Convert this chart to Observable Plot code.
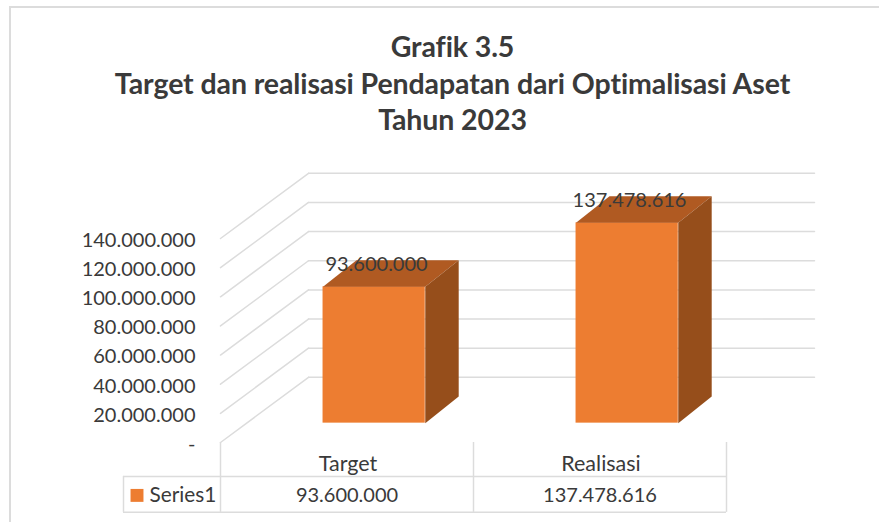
<!DOCTYPE html>
<html>
<head>
<meta charset="utf-8">
<script src="https://cdn.jsdelivr.net/npm/d3@7"></script>
<script src="https://cdn.jsdelivr.net/npm/@observablehq/plot@0.6"></script>
<style>
  html, body { margin: 0; padding: 0; background: #fff; width: 879px; height: 522px; overflow: hidden; }
  body::before { content: ""; position: absolute; left: 9px; top: 6px; right: 0; bottom: 0; border-left: 2px solid #dcdcdc; border-top: 2px solid #dcdcdc; }
  figure { margin: 0; position: absolute; left: 0; top: 0; }
  h2 { margin: 0; box-sizing: border-box; height: 140px; padding: 28px 0 0 26px; text-align: center; white-space: pre-line;
       font: 700 28.5px/36.5px Lato, sans-serif; color: #3a3a3a; letter-spacing: -0.1px; }
</style>
</head>
<body>
<script>
const titleText = "Grafik 3.5\nTarget dan realisasi Pendapatan dari Optimalisasi Aset\nTahun 2023";
const categories = ["Target", "Realisasi"];
const values = [93600000, 137478616];
const seriesName = "Series1";
const yTicks = [0, 20000000, 40000000, 60000000, 80000000, 100000000, 120000000, 140000000];

// Projection of the 3D box: a depth of 1 shifts a point towards the back wall.
const PX_PER_CAT = 253;
const VAL_PER_PX = 140000000 / 204.4;
const DEPTH_X = 88 / PX_PER_CAT;
const DEPTH_Y = 65.3 * VAL_PER_PX;
const BAR_SLANT_X = 82 / PX_PER_CAT;
const BAR_FRONT = 0.297, BAR_BACK = 0.705, BAR_INSET = 0.302, BAR_WIDTH = 0.404;
const FONT = "Lato, sans-serif", INK = "#3a3a3a", GRID = "#dcdcdc", FRONT = "#ed7d31", TOP = "#b05a22", SIDE = "#964e1b";

const locale = d3.formatLocale({decimal: ",", thousands: ".", grouping: [3], currency: ["", ""]});
const num = locale.format(",d");
const P = (c, v, d) => ({x: c + d * DEPTH_X, y: v + d * DEPTH_Y});
const B = (c, v, d) => ({x: c + BAR_FRONT * DEPTH_X + (d - BAR_FRONT) * BAR_SLANT_X, y: v + d * DEPTH_Y});
const below = px => -px * VAL_PER_PX;

const wallBack = yTicks.map(v => [P(0, v, 1), P(2, v, 1)]).flat().map((p, i) => ({...p, z: Math.floor(i / 2)}));
const wallSide = yTicks.map(v => [P(0, v, 0), P(0, v, 1)]).flat().map((p, i) => ({...p, z: Math.floor(i / 2)}));

const bars = categories.map((name, i) => ({name, i, value: values[i], x0: i + BAR_INSET, x1: i + BAR_INSET + BAR_WIDTH}));
const topFace = bars.flatMap(b => [B(b.x0, b.value, BAR_FRONT), B(b.x1, b.value, BAR_FRONT), B(b.x1, b.value, BAR_BACK), B(b.x0, b.value, BAR_BACK)].map(p => ({...p, z: b.name})));
const sideFace = bars.flatMap(b => [B(b.x1, 0, BAR_FRONT), B(b.x1, b.value, BAR_FRONT), B(b.x1, b.value, BAR_BACK), B(b.x1, 0, BAR_BACK)].map(p => ({...p, z: b.name})));

const tableHead = below(34), tableBottom = below(70);
const catY = below(22), rowY = below(53);
const tableLeft = -97 / PX_PER_CAT;

const textOpts = {fontFamily: FONT, fontSize: 20, fill: INK};

const chart = Plot.plot({
  title: titleText,
  width: 879, height: 382,
  marginLeft: 220, marginRight: 153, marginTop: 98, marginBottom: 80,
  style: {fontFamily: FONT, color: INK, background: "transparent", overflow: "visible"},
  x: {domain: [0, 2], axis: null},
  y: {domain: [0, 140000000]},
  marks: [
    Plot.line(wallBack, {x: "x", y: "y", z: "z", stroke: GRID, strokeWidth: 1.5}),
    Plot.line(wallSide, {x: "x", y: "y", z: "z", stroke: GRID, strokeWidth: 1.5}),
    Plot.axisY({ticks: yTicks, tickFormat: d => d === 0 ? "-" : num(d), tickSize: 0, tickPadding: 25, label: null, fontSize: 20, dy: 2}),
    Plot.rect(bars, {y1: () => BAR_FRONT * DEPTH_Y, y2: b => b.value + BAR_FRONT * DEPTH_Y,
      x1: b => b.x0 + BAR_FRONT * DEPTH_X, x2: b => b.x1 + BAR_FRONT * DEPTH_X, fill: FRONT}),
    Plot.line(topFace, {x: "x", y: "y", z: "z", fill: TOP, stroke: null, curve: "linear-closed"}),
    Plot.line(sideFace, {x: "x", y: "y", z: "z", fill: SIDE, stroke: null, curve: "linear-closed"}),
    Plot.text(bars, {x: b => b.i + 0.5 + BAR_BACK * DEPTH_X, y: b => b.value + BAR_BACK * DEPTH_Y, text: b => num(b.value), dx: -32.5, dy: 4, ...textOpts}),
    // data table
    Plot.ruleX([0, 1, 2], {y1: 0, y2: tableBottom, stroke: GRID, strokeWidth: 1.5}),
    Plot.ruleX([tableLeft], {y1: tableHead, y2: tableBottom, stroke: GRID, strokeWidth: 1.5}),
    Plot.ruleY([tableHead, tableBottom], {x1: tableLeft, x2: 2, stroke: GRID, strokeWidth: 1.5}),
    Plot.text(bars, {x: b => b.i + 0.5, dx: 1, y: catY, text: "name", ...textOpts, fontSize: 21.5}),
    Plot.text(bars, {x: b => b.i + 0.5, y: rowY, text: b => num(b.value), ...textOpts}),
    Plot.dot([seriesName], {x: tableLeft + 13.5 / PX_PER_CAT, y: rowY, symbol: "square", r: 7.3, fill: FRONT, stroke: null}),
    Plot.text([seriesName], {x: tableLeft + 26 / PX_PER_CAT, y: rowY, text: d => d, textAnchor: "start", ...textOpts, fontSize: 20.8})
  ]
});
document.body.appendChild(chart);
</script>
</body>
</html>
